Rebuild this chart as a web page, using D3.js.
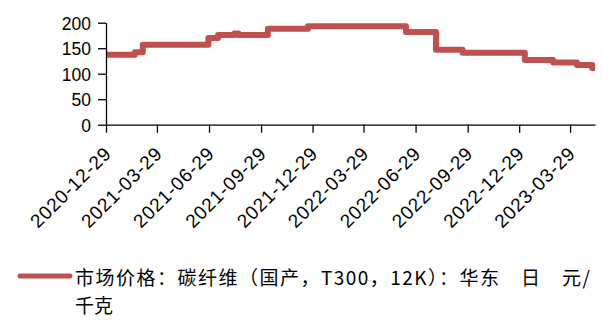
<!DOCTYPE html>
<html>
<head>
<meta charset="utf-8">
<script src="https://cdn.jsdelivr.net/npm/d3@7/dist/d3.min.js"></script>
<style>
  html, body { margin: 0; padding: 0; background: #fff; }
  svg { display: block; }
</style>
</head>
<body>
<svg id="chart" width="603" height="321"></svg>
<script>
// Step dates where the quoted price changes, and the price from that date on
const changeDates = ["2020-12-29", "2021-02-18", "2021-03-04", "2021-06-28", "2021-07-15",
  "2021-08-13", "2021-08-20", "2021-10-11", "2021-12-21", "2022-06-12", "2022-08-04",
  "2022-09-20", "2023-01-08", "2023-02-27", "2023-04-10", "2023-05-07", "2023-05-12"];
const prices = [137, 142, 157, 170, 176, 179, 176, 188, 193, 182, 147, 141, 127, 122, 117, 111, 111];

const xTickLabels = ["2020-12-29", "2021-03-29", "2021-06-29", "2021-09-29", "2021-12-29",
  "2022-03-29", "2022-06-29", "2022-09-29", "2022-12-29", "2023-03-29"];
const yTicks = [0, 50, 100, 150, 200];

const seriesName = "市场价格：碳纤维（国产，T300，12K）：华东　日　元/";
const seriesNameCont = "千克";

const parse = d3.timeParse("%Y-%m-%d");
const data = changeDates.map((d, i) => ({ date: parse(d), value: prices[i] }));

const svg = d3.select("#chart");
const plotLeft = 106, plotRight = 595, plotTop = 22.7, plotBottom = 124.7;

const x = d3.scaleTime()
  .domain([parse("2020-12-29"), parse("2023-05-12")])
  .range([plotLeft, plotRight]);
const y = d3.scaleLinear().domain([0, 200]).range([plotBottom, plotTop]);

const red = "#c0504d";

// series line
const line = d3.line()
  .x(d => x(d.date))
  .y(d => y(d.value))
  .curve(d3.curveStepAfter);

svg.append("path")
  .datum(data)
  .attr("d", line)
  .attr("fill", "none")
  .attr("stroke", red)
  .attr("stroke-width", 6)
  .attr("stroke-linejoin", "round");

// y axis
const yAxis = svg.append("g")
  .attr("transform", `translate(${plotLeft},0)`)
  .call(d3.axisLeft(y).tickValues(yTicks).tickSize(8).tickPadding(7).tickSizeOuter(0));
yAxis.select(".domain").attr("stroke", "#000").attr("stroke-width", 1.3);
yAxis.selectAll(".tick line").attr("stroke", "#000").attr("stroke-width", 1.3);
yAxis.selectAll(".tick text")
  .attr("font-family", "'Liberation Sans', Arial, sans-serif")
  .attr("font-size", 17.5)
  .attr("fill", "#000")
  .attr("dy", "0.36em");

// x axis
const xAxis = svg.append("g")
  .attr("transform", `translate(0,${plotBottom})`)
  .call(d3.axisBottom(x)
    .tickValues(xTickLabels.map(parse))
    .tickFormat(d3.timeFormat("%Y-%m-%d"))
    .tickSize(8).tickSizeOuter(0));
xAxis.select(".domain").attr("stroke", "#000").attr("stroke-width", 1.3);
xAxis.selectAll(".tick line").attr("stroke", "#000").attr("stroke-width", 1.3);
xAxis.selectAll(".tick text")
  .attr("font-family", "'Liberation Sans', Arial, sans-serif")
  .attr("font-size", 19)
  .attr("letter-spacing", 0.8)
  .attr("fill", "#000")
  .attr("text-anchor", "end")
  .attr("dy", null)
  .attr("y", 0)
  .attr("transform", "translate(6,30) rotate(-45)");

// legend
const legend = svg.append("g");
legend.append("line")
  .attr("x1", 20).attr("x2", 70)
  .attr("y1", 276).attr("y2", 276)
  .attr("stroke", red).attr("stroke-width", 5).attr("stroke-linecap", "round");
legend.append("text")
  .attr("x", 75).attr("y", 285)
  .attr("font-family", "'Noto Sans CJK SC', sans-serif")
  .attr("font-size", 19)
  .attr("fill", "#000")
  .attr("textLength", 515)
  .attr("lengthAdjust", "spacing")
  .text(seriesName);
legend.append("text")
  .attr("x", 75).attr("y", 313)
  .attr("font-family", "'Noto Sans CJK SC', sans-serif")
  .attr("font-size", 19)
  .attr("fill", "#000")
  .text(seriesNameCont);
</script>
</body>
</html>
